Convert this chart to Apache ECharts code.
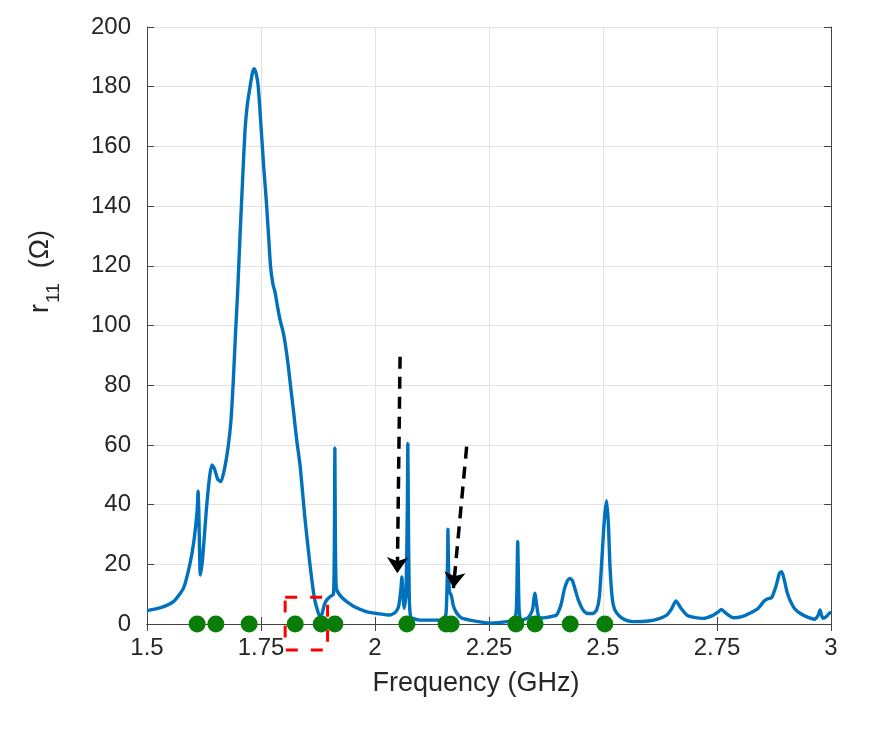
<!DOCTYPE html>
<html>
<head>
<meta charset="utf-8">
<script src="https://cdn.jsdelivr.net/npm/echarts@6/dist/echarts.min.js"></script>
<style>
  html, body { margin: 0; padding: 0; background: #fff; }
  #chart { width: 884px; height: 734px; }
</style>
</head>
<body>
<div id="chart"></div>
<script>
// frequency (GHz) and r11 (Ohm)
var freq = [1.500, 1.530, 1.558, 1.580, 1.594, 1.603, 1.610, 1.612, 1.614, 1.617, 1.622, 1.630, 1.637, 1.642, 1.648,
    1.655, 1.662, 1.670, 1.678, 1.684, 1.689, 1.694, 1.699, 1.704, 1.710, 1.715, 1.720, 1.726, 1.731, 1.735, 1.740,
    1.744, 1.751, 1.756, 1.762, 1.767, 1.771, 1.776, 1.781, 1.786, 1.792, 1.799, 1.805, 1.810, 1.815, 1.821, 1.828,
    1.836, 1.846, 1.857, 1.863, 1.868, 1.874, 1.879, 1.884, 1.889, 1.894, 1.902, 1.909, 1.911, 1.912, 1.913, 1.915,
    1.920, 1.928, 1.938, 1.955, 1.982, 2.010, 2.033, 2.045, 2.052, 2.057, 2.059, 2.061, 2.064, 2.068, 2.071, 2.072,
    2.073, 2.075, 2.078, 2.085, 2.099, 2.150, 2.156, 2.159, 2.160, 2.161, 2.163, 2.166, 2.168, 2.172, 2.179, 2.190,
    2.208, 2.252, 2.290, 2.305, 2.310, 2.312, 2.313, 2.314, 2.316, 2.320, 2.335, 2.345, 2.349, 2.351, 2.353, 2.358,
    2.362, 2.380, 2.398, 2.408, 2.415, 2.422, 2.428, 2.433, 2.440, 2.446, 2.455, 2.464, 2.478, 2.486, 2.492, 2.497,
    2.503, 2.508, 2.512, 2.515, 2.520, 2.526, 2.537, 2.550, 2.566, 2.600, 2.625, 2.640, 2.650, 2.660, 2.670, 2.684,
    2.700, 2.720, 2.740, 2.752, 2.760, 2.768, 2.786, 2.805, 2.822, 2.840, 2.852, 2.859, 2.870, 2.880, 2.887, 2.892,
    2.898, 2.904, 2.910, 2.920, 2.932, 2.950, 2.965, 2.972, 2.976, 2.979, 2.983, 2.990, 2.998, 3.000];
var r11 = [4.5, 5.5, 7.5, 12, 20, 28, 38, 44.5, 35, 16.4, 22, 38, 49, 53.3, 52,
    48.5, 47.7, 52, 59.4, 68, 80.7, 97, 112, 130, 150, 165.5, 174, 180, 184.5, 186, 184,
    180, 164.5, 153, 141, 129, 119.7, 114, 111, 106.5, 101.8, 97.5, 92, 86.2, 79.5, 71.7, 62,
    52.7, 35.9, 20.4, 13, 8, 4.5, 2.5, 3.5, 6.5, 8, 9.2, 10, 30, 59, 30, 12,
    10.3, 8.8, 7.5, 5.8, 4.1, 3.4, 3, 4, 6, 12, 15.8, 11, 5.3, 10, 40, 60.5,
    40, 10, 2.5, 1.8, 1.3, 1.3, 4, 20, 31.8, 20, 11, 10, 9.2, 6, 3.7, 2,
    1.3, 0.3, 0.8, 1.5, 5, 20, 27.6, 20, 5, 1.3, 2, 4.5, 9, 10.3, 8, 3,
    2, 2.3, 3, 6.5, 11.5, 14.5, 15.3, 14.5, 11, 8, 5, 3.6, 3.5, 4.7, 9, 20.3,
    35, 41.3, 33, 20.4, 9, 4.7, 2.5, 1.3, 0.8, 1, 1.9, 3, 5, 7.7, 5.5, 3,
    2.2, 1.9, 2.8, 4, 4.9, 3.8, 2.1, 2.5, 3.6, 5.2, 7.5, 8.3, 8.9, 13, 17, 17.5,
    14.5, 10.5, 8, 5.2, 3.6, 2.2, 1.6, 3, 4.7, 3, 1.9, 2.5, 3.8, 3.8];

// green markers on the zero line
var markerFreq = [1.610, 1.651, 1.724, 1.825, 1.882, 1.912, 2.070, 2.156, 2.167, 2.309, 2.351, 2.428, 2.504];

// annotation shapes (data coordinates)
var boxX = [1.803, 1.896];
var boxY = [-8.7, 9];
var arrows = [
    [[2.055, 89.5], [2.049, 17]],
    [[2.201, 59.4], [2.172, 12]]
];

var xTicks = [1.5, 1.75, 2, 2.25, 2.5, 2.75, 3];

var curve = freq.map(function (f, i) { return [f, r11[i]]; });
var markers = markerFreq.map(function (f) { return [f, 0]; });
var box = [[boxX[0], boxY[1]], [boxX[1], boxY[1]], [boxX[1], boxY[0]], [boxX[0], boxY[0]], [boxX[0], boxY[1]]];

var axisColor = '#262626';
var font = 'Liberation Sans, Arial, sans-serif';

var chart = echarts.init(document.getElementById('chart'));
chart.setOption({
    backgroundColor: '#fff',
    animation: false,
    grid: {left: 147, right: 53, top: 27, bottom: 110},
    xAxis: [{
        type: 'value', min: 1.5, max: 3, interval: 0.25,
        name: 'Frequency (GHz)', nameLocation: 'middle', nameGap: 46,
        nameTextStyle: {fontSize: 27, color: axisColor, fontFamily: font, padding: [0, 26, 0, 0]},
        axisLine: {show: true, lineStyle: {color: '#444', width: 1}},
        axisTick: {show: true, inside: true, length: 7, lineStyle: {color: '#444'}},
        axisLabel: {
            fontSize: 24, color: axisColor, fontFamily: font, margin: 12,
            formatter: function (v) { return xTicks.indexOf(v) >= 0 ? String(v) : ''; }
        },
        splitLine: {show: true, lineStyle: {color: '#e3e3e3', width: 1}}
    }, {
        type: 'value', min: 1.5, max: 3, interval: 0.25, position: 'top',
        axisLine: {show: true, lineStyle: {color: '#444', width: 1}},
        axisTick: {show: true, inside: true, length: 7, lineStyle: {color: '#444'}},
        axisLabel: {show: false},
        splitLine: {show: false}
    }],
    yAxis: [{
        type: 'value', min: 0, max: 200, interval: 20,
        name: '{i|r}{s|11}{i|  (Ω)}', nameLocation: 'middle', nameGap: 90,
        nameTextStyle: {
            color: axisColor, fontFamily: font, padding: [0, 0, 0, 108],
            rich: {
                i: {fontSize: 27, lineHeight: 30, color: axisColor, fontFamily: font, verticalAlign: 'top'},
                s: {fontSize: 19, lineHeight: 19, color: axisColor, fontFamily: font, verticalAlign: 'top', padding: [17, 0, 0, 1]}
            }
        },
        axisLine: {show: true, lineStyle: {color: '#444', width: 1}},
        axisTick: {show: true, inside: true, length: 7, lineStyle: {color: '#444'}},
        axisLabel: {fontSize: 24, color: axisColor, fontFamily: font, margin: 16},
        splitLine: {show: true, lineStyle: {color: '#e3e3e3', width: 1}}
    }, {
        type: 'value', min: 0, max: 200, interval: 20, position: 'right',
        axisLine: {show: true, lineStyle: {color: '#444', width: 1}},
        axisTick: {show: true, inside: true, length: 7, lineStyle: {color: '#444'}},
        axisLabel: {show: false},
        splitLine: {show: false}
    }],
    series: [{
        type: 'line',
        data: curve,
        showSymbol: false,
        symbol: 'none',
        smooth: 0.2,
        lineStyle: {color: '#0072BD', width: 3.4},
        z: 3
    }, {
        type: 'scatter',
        data: markers,
        symbolSize: 17,
        itemStyle: {color: '#087d08', opacity: 1},
        clip: false,
        z: 4
    }, {
        type: 'line',
        data: box,
        showSymbol: false,
        symbol: 'none',
        clip: false,
        lineStyle: {color: '#ff0000', width: 3, type: [12, 13]},
        z: 5
    }, {
        type: 'lines',
        coordinateSystem: 'cartesian2d',
        data: arrows.map(function (a) { return {coords: a}; }),
        symbol: ['none', 'arrow'],
        symbolSize: 16,
        lineStyle: {color: '#000', width: 3.5, type: [12, 8], opacity: 1, curveness: 0},
        z: 6
    }]
});
</script>
</body>
</html>
